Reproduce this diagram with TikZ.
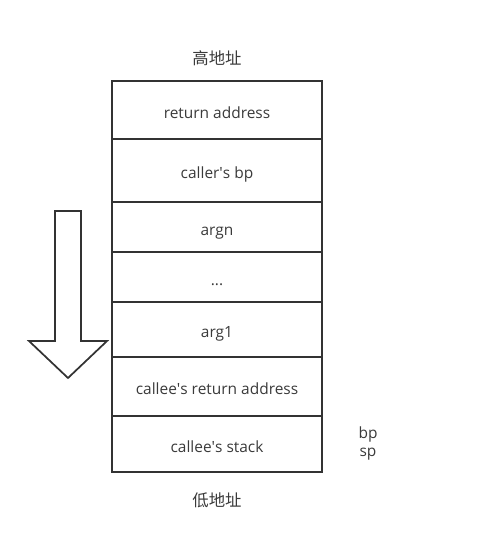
\documentclass[tikz,border=0pt]{standalone}
\usepackage{fontspec}
\setmainfont{Open Sans}
\newfontfamily\cjk{Noto Sans CJK SC}
\usetikzlibrary{positioning}
\definecolor{edge}{HTML}{333333}
\definecolor{ink}{HTML}{3A3A3A}
\begin{document}
\begin{tikzpicture}[
        x=0.75pt, y=-0.75pt,
        node distance=0pt,
        cell/.style={
            rectangle,
            draw=edge,
            line width=1.3pt,
            text=ink,
            font=\fontsize{11.6}{13}\selectfont,
            minimum width=157.5pt,
            text height=12.5pt,
            text depth=0pt,
            outer sep=0pt,
            inner sep=0pt
        },
        caption/.style={
            text=ink,
            font=\cjk\fontsize{12.3}{14}\selectfont,
            inner sep=1pt
        },
        reg/.style={
            text=ink,
            font=\fontsize{11.6}{13}\selectfont,
            inner sep=1pt
        }
    ]
        \useasboundingbox (0,0) rectangle (499,554);

        % stack frames
        \node[cell, minimum height=43.5pt, anchor=north west] (ret) at (112,81) {return address};
        \node[cell, minimum height=47.25pt, below=of ret] (cbp) {caller\textquotesingle s bp};
        \node[cell, minimum height=37.5pt, below=of cbp] (argn) {argn};
        \node[cell, minimum height=37.5pt, below=of argn] (dots) {...};
        \node[cell, minimum height=41.25pt, below=of dots] (arg1) {arg1};
        \node[cell, minimum height=44.25pt, below=of arg1] (cret) {callee\textquotesingle s return address};
        \node[cell, minimum height=42pt, below=of cret] (cstk) {callee\textquotesingle s stack};

        % addresses
        \node[caption] (high) at (217,58) {高地址};
        \node[caption] (low) at (217,500) {低地址};

        % registers
        \node[reg] (bp) at (368,434) {bp};
        \node[reg] (sp) at (368,454) {sp};

        % growth direction
        \draw[edge, line width=1.3pt, line join=miter]
            (55,211) -- (81,211) -- (81,341) -- (107,341) -- (68,378)
            -- (29,341) -- (55,341) -- cycle;
    \end{tikzpicture}
\end{document}
